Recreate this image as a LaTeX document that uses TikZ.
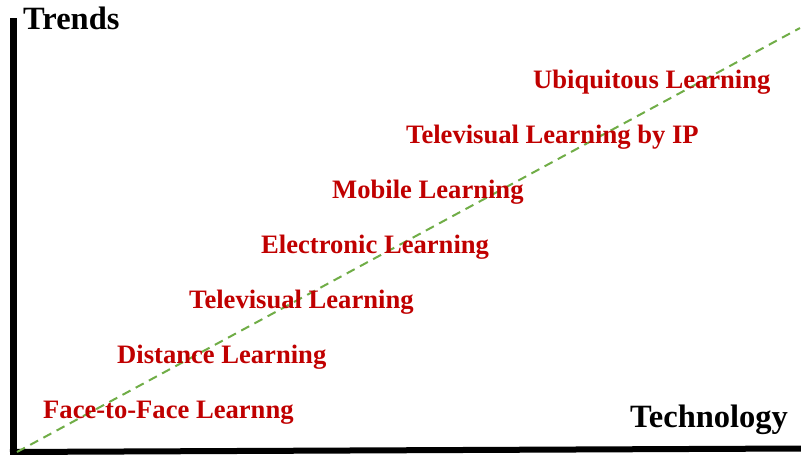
\documentclass[tikz,border=0pt]{standalone}
\usepackage{fontspec}
\setmainfont{Liberation Serif}
\usetikzlibrary{positioning}
\definecolor{trendred}{RGB}{192,0,0}
\definecolor{trendgreen}{RGB}{112,173,71}
\tikzset{
% Two text styles: red trend labels and black axis labels
trend label/.style={anchor=base west,inner sep=0,text=trendred,font=\fontsize{26.6}{30}\selectfont\bfseries},
axis label/.style={anchor=base west,inner sep=0,text=black,font=\fontsize{32.5}{36}\selectfont\bfseries}
}
\begin{document}
\begin{tikzpicture}[x=1pt,y=-1pt]
\useasboundingbox (0,0) rectangle (801,455);
% Axes
\coordinate (top) at (13.5,18);
\coordinate (origin) at (13.5,452);
\coordinate (right) at (801,448.5);
\draw[line width=7] (top) -- (origin);
\draw[line width=6] (10,452) -- (right);
% Trend line
\coordinate (start) at (17,452);
\coordinate (end) at (800,28);
\draw[trendgreen,line width=2,dash pattern=on 9 off 6] (start) -- (end);
% Axis labels
\node(trends)[axis label] at (23,30) {Trends};
\node(tech)[axis label] at (630,427) {Technology};
% The trends
\node(1)[trend label] at (43,418) {Face-to-Face Learnng};
\node(2)[trend label] at (117,363) {Distance Learning};
\node(3)[trend label] at (189,308) {Televisual Learning};
\node(4)[trend label] at (261,253) {Electronic Learning};
\node(5)[trend label] at (332,198) {Mobile Learning};
\node(6)[trend label] at (406,143) {Televisual Learning by IP};
\node(7)[trend label] at (533,88) {Ubiquitous Learning};
\end{tikzpicture}
\end{document}
